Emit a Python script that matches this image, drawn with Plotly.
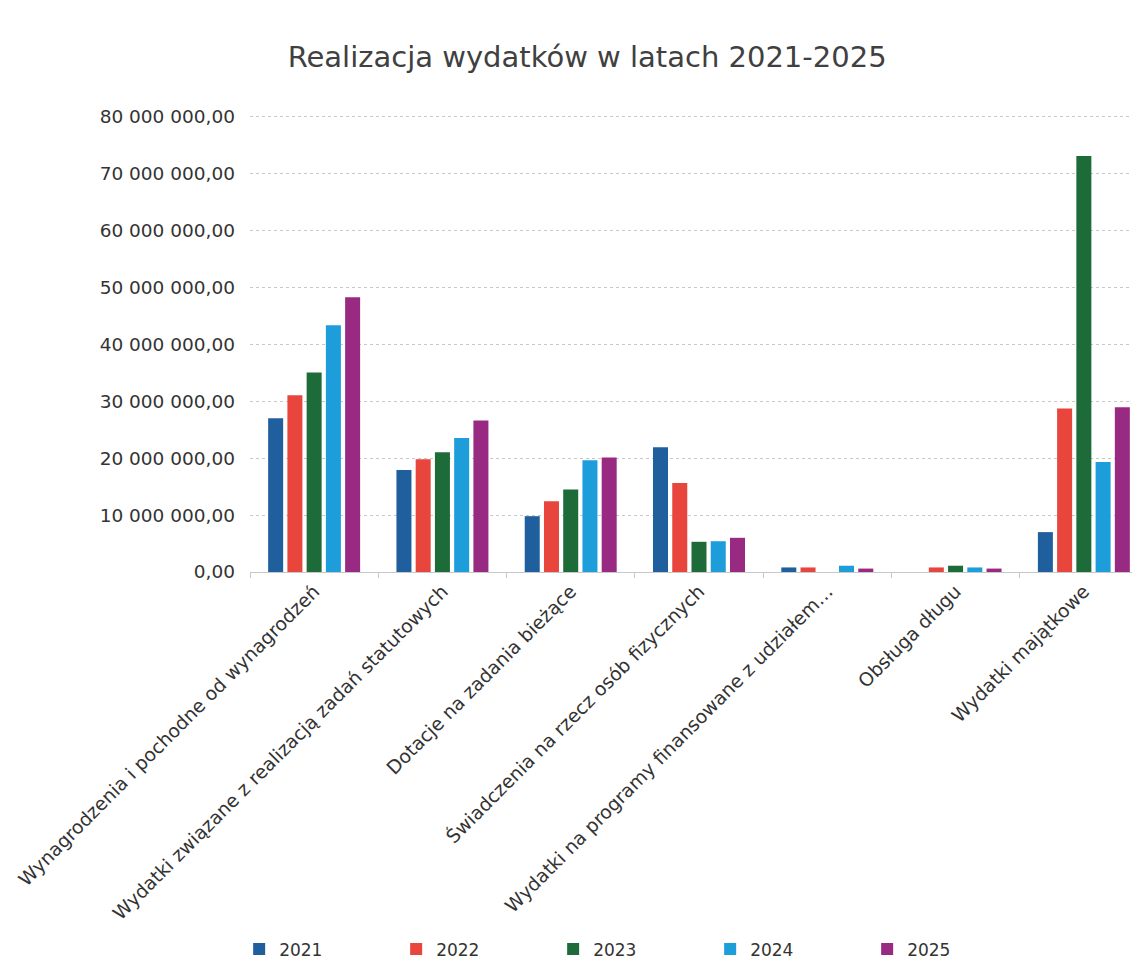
import plotly.graph_objects as go

# Dane
categories = [
    "Wynagrodzenia i pochodne od wynagrodzeń",
    "Wydatki związane z realizacją zadań statutowych",
    "Dotacje na zadania bieżące",
    "Świadczenia na rzecz osób fizycznych",
    "Wydatki na programy finansowane z udziałem…",
    "Obsługa długu",
    "Wydatki majątkowe",
]
years = ["2021", "2022", "2023", "2024", "2025"]
v2021 = [27.0e6, 17.9e6, 9.8e6, 21.9e6, 0.8e6, 0.0, 7.0e6]
v2022 = [31.0e6, 19.8e6, 12.4e6, 15.6e6, 0.8e6, 0.8e6, 28.7e6]
v2023 = [35.0e6, 21.0e6, 14.5e6, 5.3e6, 0.0, 1.1e6, 73.0e6]
v2024 = [43.3e6, 23.5e6, 19.6e6, 5.4e6, 1.1e6, 0.8e6, 19.3e6]
v2025 = [48.2e6, 26.6e6, 20.1e6, 6.0e6, 0.6e6, 0.6e6, 28.9e6]
values = [v2021, v2022, v2023, v2024, v2025]
y_ticks = [0, 10e6, 20e6, 30e6, 40e6, 50e6, 60e6, 70e6, 80e6]

COLORS = ["#1f5f9e", "#e8453c", "#1d6b38", "#1e9ddb", "#992a82"]

fig = go.Figure()
for year, vals, col in zip(years, values, COLORS):
    fig.add_trace(go.Bar(name=year, x=categories, y=vals, marker_color=col,
                         marker_line_width=0))

fig.update_layout(
    width=1140, height=967,
    paper_bgcolor="white", plot_bgcolor="white",
    font=dict(family="DejaVu Sans, Arial", color="#333333"),
    separators=", ",
    margin=dict(l=242, r=0, t=107, b=403),
    bargap=0.25, bargroupgap=0.22,
    title=dict(text="Realizacja wydatków w latach 2021-2025",
               x=0.508, xanchor="center", y=0.949, yanchor="middle",
               font=dict(size=29, color="#404040")),
    legend=dict(orientation="h", x=0.425, xanchor="center", y=-0.826,
                yanchor="middle", entrywidth=112, itemwidth=30,
                font=dict(size=17, color="#333333")),
    showlegend=True,
)

fig.update_yaxes(
    range=[0, 80.2e6], tickvals=y_ticks, tickformat=",.2f",
    showgrid=True, gridcolor="#c8c8c8", griddash="dot", gridwidth=1,
    zeroline=False, tickfont=dict(size=18.5, color="#333333"),
    ticklabelstandoff=14, automargin=False,
)
fig.update_xaxes(
    tickangle=-45, tickfont=dict(size=18.8, color="#333333"),
    showline=True, linecolor="#c8c8c8", ticks="outside", tickson="boundaries",
    ticklen=5, tickcolor="#c8c8c8", automargin=False,
)

fig.write_html("out.html")
